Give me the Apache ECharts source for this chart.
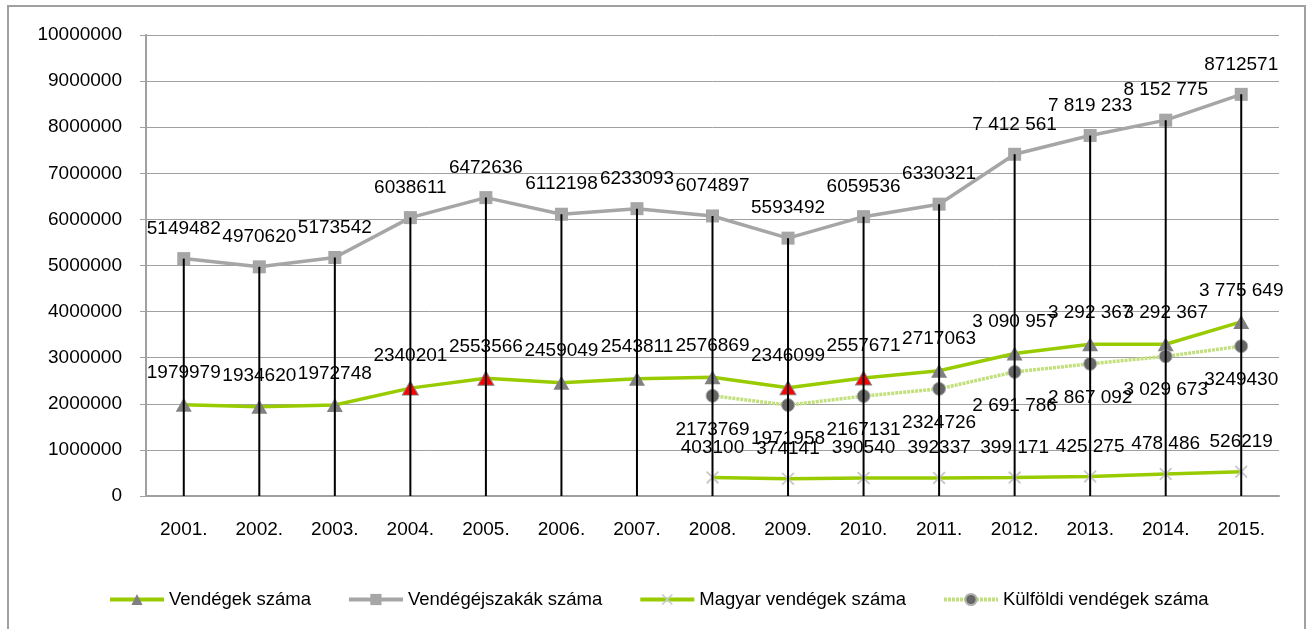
<!DOCTYPE html>
<html>
<head>
<meta charset="utf-8">
<script src="https://cdn.jsdelivr.net/npm/echarts@6/dist/echarts.min.js"></script>
<style>
  html, body { margin: 0; padding: 0; background: #fff; }
  #chart { width: 1314px; height: 629px; }
</style>
</head>
<body>
<div id="chart"></div>
<script>
const years = ["2001.", "2002.", "2003.", "2004.", "2005.", "2006.", "2007.", "2008.",
  "2009.", "2010.", "2011.", "2012.", "2013.", "2014.", "2015."];

const vendegek = [1979979, 1934620, 1972748, 2340201, 2553566, 2459049, 2543811, 2576869,
  2346099, 2557671, 2717063, 3090957, 3292367, 3292367, 3775649];
const vendegejszakak = [5149482, 4970620, 5173542, 6038611, 6472636, 6112198, 6233093, 6074897,
  5593492, 6059536, 6330321, 7412561, 7819233, 8152775, 8712571];
const magyar = ["-", "-", "-", "-", "-", "-", "-", 403100,
  374141, 390540, 392337, 399171, 425275, 478486, 526219];
const kulfoldi = ["-", "-", "-", "-", "-", "-", "-", 2173769,
  1971958, 2167131, 2324726, 2691786, 2867092, 3029673, 3249430];

// which points are labelled with space-separated thousands, as in the original
const spacedVendegek = [11, 12, 13, 14];
const spacedEjszakak = [11, 12, 13];
const spacedMagyar = [11, 12, 13];
const spacedKulfoldi = [11, 12, 13];
// years where the triangle marker is red
const redYears = [3, 4, 8, 9];

const FONT = "'Liberation Sans', Arial, sans-serif";
const FS = 19;
const GREEN = "#99cc00";
const GRAY = "#a6a6a6";

function fmt(spaced) {
  return (p) => {
    const s = String(p.value);
    return spaced.includes(p.dataIndex) ? s.replace(/\B(?=(\d{3})+(?!\d))/g, " ") : s;
  };
}

const chart = echarts.init(document.getElementById("chart"));

const labelBase = { show: true, color: "#000", fontSize: FS, fontFamily: FONT };

chart.setOption({
  animation: false,
  textStyle: { fontFamily: FONT },
  graphic: [{
    type: "rect",
    shape: { x: 8, y: 6, width: 1297, height: 640 },
    style: { fill: "none", stroke: "#a0a0a0", lineWidth: 2 },
    z: -1
  }],
  grid: { left: 146, right: 35, top: 35, bottom: 133 },
  legend: {
    data: ["Vendégek száma", "Vendégéjszakák száma", "Magyar vendégek száma", "Külföldi vendégek száma"],
    left: 103,
    top: 585,
    itemWidth: 54,
    itemHeight: 14,
    itemGap: 36,
    lineStyle: { width: 4 },
    textStyle: { fontSize: 18.5, color: "#000", fontFamily: FONT }
  },
  xAxis: {
    type: "category",
    data: years,
    axisLine: { lineStyle: { color: "#a0a0a0", width: 2 } },
    axisTick: { show: false },
    axisLabel: { color: "#000", fontSize: FS, margin: 24, fontFamily: FONT }
  },
  yAxis: {
    type: "value",
    min: 0,
    max: 10000000,
    interval: 1000000,
    axisLine: { show: true, lineStyle: { color: "#a0a0a0", width: 2 } },
    axisTick: { show: true, length: 6, lineStyle: { color: "#a0a0a0" } },
    axisLabel: { color: "#000", fontSize: FS, margin: 24, fontFamily: FONT, formatter: (v) => String(v) },
    splitLine: { lineStyle: { color: "#a0a0a0", width: 1 } }
  },
  series: [
    {
      name: "Vendégek száma",
      type: "line",
      data: vendegek.map((v, i) => redYears.includes(i)
        ? { value: v, itemStyle: { color: "#ff0000", borderColor: "#808080", borderWidth: 1 } }
        : v),
      z: 3,
      symbol: "triangle",
      symbolSize: [16, 14],
      lineStyle: { color: GREEN, width: 3.5 },
      itemStyle: { color: "#808080" },
      label: Object.assign({}, labelBase, { position: "top", distance: 15, formatter: fmt(spacedVendegek) })
    },
    {
      name: "Vendégéjszakák száma",
      type: "line",
      data: vendegejszakak,
      z: 3,
      symbol: "rect",
      symbolSize: 13,
      lineStyle: { color: GRAY, width: 3.5 },
      itemStyle: { color: GRAY },
      label: Object.assign({}, labelBase, { position: "top", distance: 14, formatter: fmt(spacedEjszakak) })
    },
    {
      name: "Magyar vendégek száma",
      type: "line",
      data: magyar,
      z: 3,
      symbol: "path://M0,1L1,0L10,9L9,10ZM9,0L10,1L1,10L0,9Z",
      symbolSize: 13,
      lineStyle: { color: GREEN, width: 3.5 },
      itemStyle: { color: "#c8c8c8" },
      label: Object.assign({}, labelBase, { position: "top", distance: 14, formatter: fmt(spacedMagyar) })
    },
    {
      name: "Külföldi vendégek száma",
      type: "line",
      data: kulfoldi,
      z: 3,
      symbol: "circle",
      symbolSize: 13,
      lineStyle: { color: "#c2e07c", width: 3.5, type: [3, 1] },
      itemStyle: { color: "#666666", borderColor: "#b0b0b0", borderWidth: 1 },
      label: Object.assign({}, labelBase, { position: "bottom", distance: 17, formatter: fmt(spacedKulfoldi) })
    },
    {
      // drop lines from the top series down to the axis
      name: "drop",
      type: "bar",
      data: vendegejszakak,
      barWidth: 2,
      z: 10,
      silent: true,
      itemStyle: { color: "#000" }
    }
  ]
});
</script>
</body>
</html>
